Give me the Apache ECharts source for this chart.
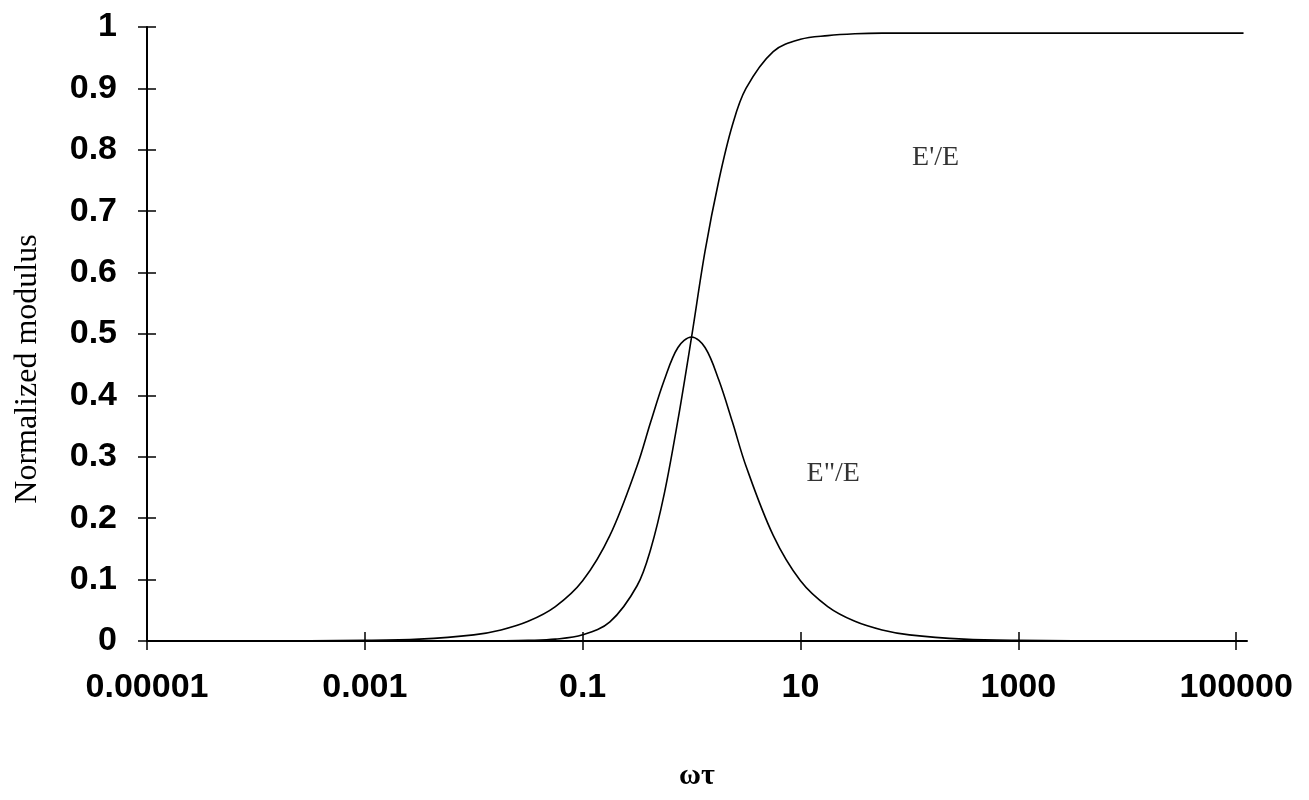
<!DOCTYPE html>
<html>
<head>
<meta charset="utf-8">
<script src="https://cdn.jsdelivr.net/npm/echarts@6/dist/echarts.min.js"></script>
<style>
html,body{margin:0;padding:0;background:#fff;}
#chart{width:1309px;height:800px;}
</style>
</head>
<body>
<div id="chart"></div>
<script>
// ωτ sample points
const omegaTau = [0.00001, 0.0001, 0.001, 0.00316, 0.01, 0.0178, 0.0316, 0.0562, 0.1, 0.178, 0.316, 0.422, 0.562, 0.75,
  1, 1.33, 1.78, 2.37, 3.16, 5.62, 10, 17.8, 31.6, 56.2, 100, 316, 1000, 10000, 100000, 117000];
// E'/E (storage) readings
const storageRatio = [0, 0, 0, 0, 0.0001, 0.0003, 0.001, 0.003, 0.010, 0.031, 0.09, 0.15, 0.24, 0.36,
  0.495, 0.635, 0.75, 0.84, 0.90, 0.96, 0.98, 0.986, 0.989, 0.99, 0.99, 0.99, 0.99, 0.99, 0.99, 0.99];
// E"/E (loss) readings
const lossRatio = [0, 0.0001, 0.001, 0.003, 0.010, 0.018, 0.032, 0.056, 0.098, 0.172, 0.285, 0.357, 0.425, 0.478,
  0.495, 0.478, 0.425, 0.357, 0.285, 0.172, 0.098, 0.056, 0.032, 0.018, 0.010, 0.003, 0.001, 0.0001, 0, 0];
// x tick labels
const xTickLabels = ['0.00001', '0.001', '0.1', '10', '1000', '100000'];
// annotation labels: [ωτ, value, text]
const annotations = [[174, 0.787, "E'/E"], [20, 0.272, 'E"/E']];

const toX = w => Math.log10(w) + 5;   // decades above 1e-5
const xTickValues = xTickLabels.map(s => Math.round(toX(parseFloat(s))));
const xFmt = v => { const i = xTickValues.indexOf(Math.round(v)); return i >= 0 ? xTickLabels[i] : ''; };

const tickFont = { fontFamily: 'Liberation Sans', fontWeight: 'bold', fontSize: 34, color: '#000' };
const serif = 'Liberation Serif';
const lineStyle = { color: '#000', width: 2 };

const chart = echarts.init(document.getElementById('chart'), null, { renderer: 'canvas' });
chart.setOption({
  animation: false,
  backgroundColor: '#fff',
  grid: { left: 147, right: 62, top: 27, bottom: 159, containLabel: false },
  xAxis: [{
    type: 'value', min: 0, max: 10.1,
    name: 'ωτ', nameLocation: 'middle', nameGap: 120,
    nameTextStyle: { fontFamily: serif, fontSize: 30, fontWeight: 'bold', color: '#000' },
    axisLine: { show: true, onZero: false, lineStyle },
    axisTick: { show: true, inside: false, length: 9, customValues: xTickValues, lineStyle: { color: '#000', width: 1.5 } },
    axisLabel: Object.assign({ margin: 30, customValues: xTickValues, formatter: xFmt }, tickFont),
    splitLine: { show: false }
  }, {
    type: 'value', min: 0, max: 10.1, position: 'bottom',
    axisLine: { show: false, onZero: false },
    axisTick: { show: true, inside: true, length: 9, customValues: xTickValues, lineStyle: { color: '#000', width: 1.5 } },
    axisLabel: { show: false },
    splitLine: { show: false }
  }],
  yAxis: [{
    type: 'value', min: 0, max: 1, interval: 0.1,
    name: 'Normalized modulus', nameLocation: 'middle', nameGap: 103, nameRotate: 90,
    nameTextStyle: { fontFamily: serif, fontSize: 32, color: '#000', padding: [0, 70, 0, 0] },
    axisLine: { show: true, lineStyle },
    axisTick: { show: true, inside: false, length: 9, lineStyle: { color: '#000', width: 1.5 } },
    axisLabel: Object.assign({ margin: 30, formatter: v => String(Math.round(v * 10) / 10) }, tickFont),
    splitLine: { show: false }
  }, {
    type: 'value', min: 0, max: 1, interval: 0.1, position: 'left',
    axisLine: { show: false },
    axisTick: { show: true, inside: true, length: 9, lineStyle: { color: '#000', width: 1.5 } },
    axisLabel: { show: false },
    splitLine: { show: false }
  }],
  series: [{
    name: "E'/E", type: 'line', smooth: 0.35, symbol: 'none',
    lineStyle: { color: '#000', width: 1.6 },
    data: omegaTau.map((w, i) => [toX(w), storageRatio[i]])
  }, {
    name: 'E"/E', type: 'line', smooth: 0.35, symbol: 'none',
    lineStyle: { color: '#000', width: 1.6 },
    data: omegaTau.map((w, i) => [toX(w), lossRatio[i]])
  }, {
    type: 'scatter', symbolSize: 0, silent: true,
    data: annotations.map(a => [toX(a[0]), a[1], a[2]]),
    label: { show: true, position: 'inside', formatter: p => p.data[2],
      fontFamily: serif, fontSize: 28, color: '#000' }
  }]
});
</script>
</body>
</html>
